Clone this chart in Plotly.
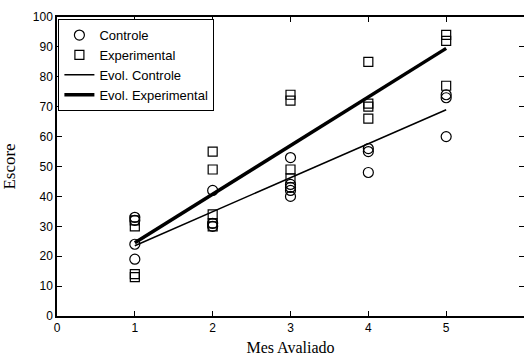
import plotly.graph_objects as go

# Data
ctrl_x = [1, 1, 1, 1, 2, 2, 2, 3, 3, 3, 3, 3, 4, 4, 4, 5, 5, 5]
ctrl_y = [33, 32, 24, 19, 42, 31, 30, 53, 44, 43, 42, 40, 56, 55, 48, 74, 73, 60]

exp_x = [1, 1, 1, 1, 2, 2, 2, 2, 2, 3, 3, 3, 3, 4, 4, 4, 4, 5, 5, 5]
exp_y = [32, 30, 14, 13, 55, 49, 34, 31, 30, 74, 72, 49, 46, 85, 71, 70, 66, 94, 92, 77]

evol_x = [1, 5]
evol_ctrl = [23.5, 69]
evol_exp = [24.5, 89.5]

x_ticks = [0, 1, 2, 3, 4, 5, 6]
y_ticks = [0, 10, 20, 30, 40, 50, 60, 70, 80, 90, 100]

fig = go.Figure()
fig.add_trace(go.Scatter(x=ctrl_x, y=ctrl_y, mode="markers", name="Controle",
                         marker=dict(symbol="circle-open", size=10, color="black", line=dict(width=1.2))))
fig.add_trace(go.Scatter(x=exp_x, y=exp_y, mode="markers", name="Experimental",
                         marker=dict(symbol="square-open", size=9, color="black", line=dict(width=1.2))))
fig.add_trace(go.Scatter(x=evol_x, y=evol_ctrl, mode="lines", name="Evol. Controle",
                         line=dict(color="black", width=1.5)))
fig.add_trace(go.Scatter(x=evol_x, y=evol_exp, mode="lines", name="Evol. Experimental",
                         line=dict(color="black", width=3.5)))

axis_common = dict(showgrid=False, zeroline=False, showline=True, linecolor="black", linewidth=1.5,
                   mirror="ticks", ticks="inside", ticklen=5, tickcolor="black", automargin=False,
                   tickfont=dict(family="Liberation Sans", size=12, color="black"))

fig.update_layout(
    width=524, height=360,
    margin=dict(l=57, r=0, t=17, b=44),
    paper_bgcolor="white", plot_bgcolor="white",
    xaxis=dict(range=[0, 6], tickvals=x_ticks,
               title=dict(text="Mes Avaliado", font=dict(family="Liberation Serif", size=16, color="black"), standoff=8),
               **axis_common),
    yaxis=dict(range=[0, 100], tickvals=y_ticks,
               title=dict(text="Escore", font=dict(family="Liberation Serif", size=17, color="black"), standoff=14),
               **axis_common),
    legend=dict(x=0.003, y=0.993, xanchor="left", yanchor="top",
                bgcolor="white", bordercolor="black", borderwidth=1,
                font=dict(family="Liberation Sans", size=13, color="black"),
                tracegroupgap=0, itemwidth=30),
    showlegend=True,
)

fig.write_html("out.html", config={"displayModeBar": False},
               post_script="document.body.style.margin='0';document.body.style.overflow='hidden';")
